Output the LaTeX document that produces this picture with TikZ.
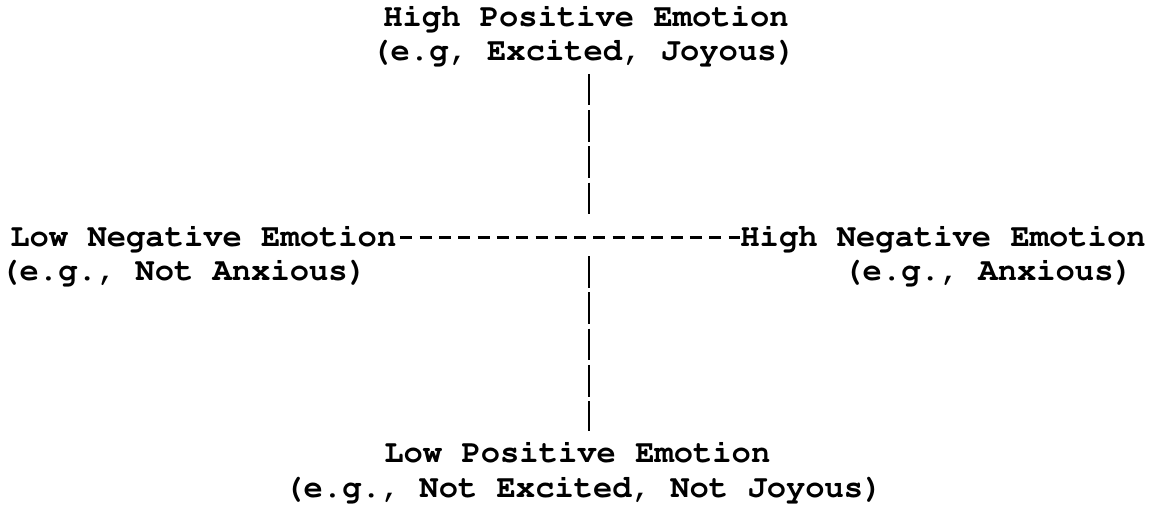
\documentclass[tikz,border=0pt]{standalone}
\usepackage[T1]{fontenc}
\newcommand{\lblfont}{\fontfamily{pcr}\fontseries{b}\fontsize{16.08pt}{18pt}\selectfont}
\usetikzlibrary{positioning}

\begin{document}
\begin{tikzpicture}[
  x=0.5pt,y=-0.5pt,
  lbl/.style={anchor=base west,inner sep=0pt,font=\lblfont},
  bars/.style={line width=1pt,dash pattern=on 15.8pt off 2.35pt},
  dashes/.style={line width=1.5pt,dash pattern=on 6pt off 3.65pt,dash phase=7.8pt}
]
\useasboundingbox (0,0) rectangle (1156,505);
% Top
\node[lbl] (hipos) at (383,26) {High Positive Emotion};
\node[lbl] (hiposeg) at (371,60) {(e.g, Excited, Joyous)};
% Left and right
\node[lbl] (loneg) at (10,246) {Low Negative Emotion};
\node[lbl] (lonegeg) at (0,280) {(e.g., Not Anxious)};
\node[lbl] (hineg) at (740,246) {High Negative Emotion};
\node[lbl] (hinegeg) at (843,280) {(e.g., Anxious)};
% Bottom
\node[lbl] (lopos) at (384,462) {Low Positive Emotion};
\node[lbl] (loposeg) at (284,497) {(e.g., Not Excited, Not Joyous)};

\coordinate (cross) at (589,237);
\coordinate (crossup) at (589,216);
\coordinate (crossdn) at (589,256);

\draw[dashes] (loneg.east |- cross) -- (hineg.west |- cross);
\draw[bars,shorten <=4.5pt] (hiposeg.south -| cross) -- (crossup);
\draw[bars,shorten >=4.5pt] (crossdn) -- (lopos.north -| cross);
\end{tikzpicture}
\end{document}
